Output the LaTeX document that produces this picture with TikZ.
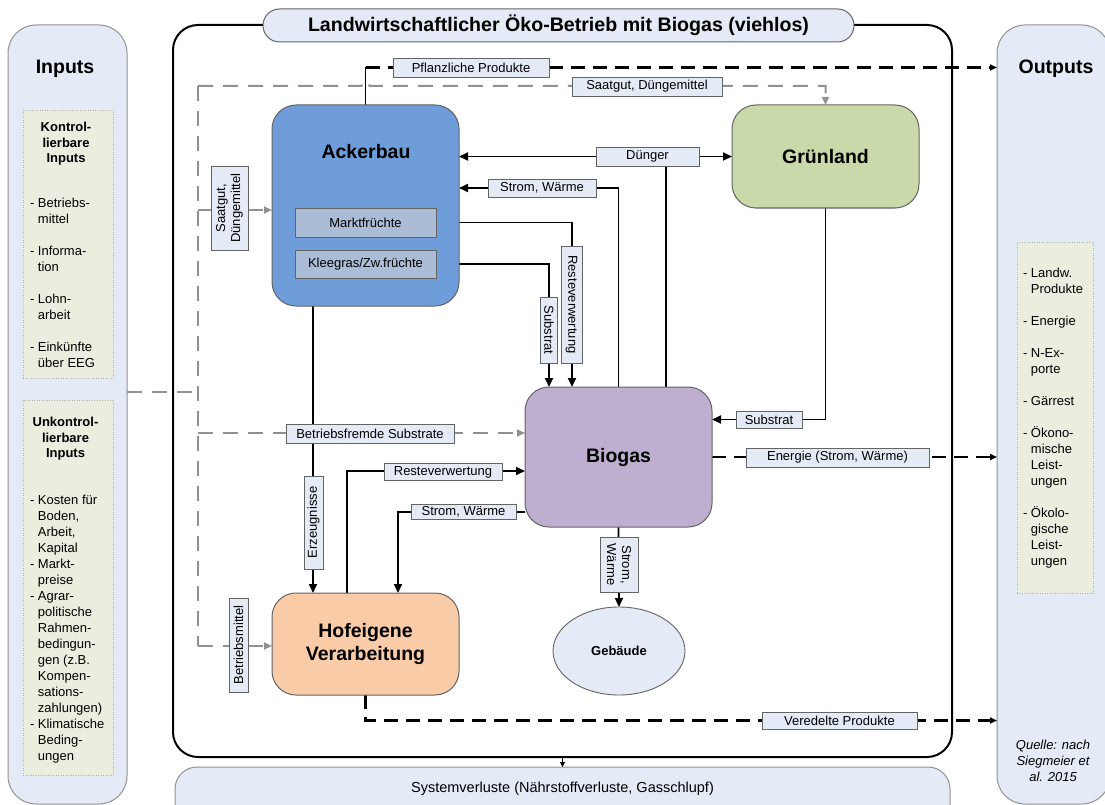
\documentclass[tikz,border=0pt]{standalone}
\usepackage{fontspec}
\setmainfont{Liberation Sans}
\usetikzlibrary{arrows.meta,shapes.geometric}

\definecolor{paleblue}{RGB}{228,234,246}
\definecolor{listgreen}{RGB}{235,238,222}
\definecolor{ackerblue}{RGB}{111,157,217}
\definecolor{subblue}{RGB}{170,188,214}
\definecolor{gruenfill}{RGB}{202,217,169}
\definecolor{biofill}{RGB}{190,175,209}
\definecolor{hoffill}{RGB}{249,203,166}
\definecolor{edgegray}{RGB}{100,100,100}
\definecolor{dashgray}{RGB}{145,145,145}

\pgfdeclarelayer{bg}
\pgfdeclarelayer{lines}
\pgfsetlayers{bg,lines,main}

\newcommand\fsz[2]{\fontsize{#1}{#2}\selectfont}
\newcommand\hangind{\hphantom{- }}

\begin{document}
\begin{tikzpicture}[x=1pt,y=-1pt,
  every node/.style={inner sep=0pt,outer sep=0pt},
  panel/.style={draw=edgegray!70, fill=paleblue, line width=1pt, rounded corners=28pt},
  listbox/.style={draw=gray!60, fill=listgreen, line width=0.7pt, dash pattern=on 1pt off 1.5pt},
  unitbox/.style={draw=edgegray, line width=1pt, rounded corners=24pt, font=\bfseries\fsz{19.5}{23}, align=center},
  subbox/.style={draw=edgegray, fill=subblue, line width=0.8pt, font=\fsz{13}{15}},
  lbl/.style={draw=edgegray, fill=paleblue, line width=0.8pt, font=\fsz{13}{15}, align=center},
  head/.style={font=\bfseries\fsz{19.5}{23}, anchor=base},
  listtext/.style={anchor=north west, align=left, font=\fsz{13}{16}},
  listhead/.style={anchor=north, align=center, font=\bfseries\fsz{13}{15.5}},
  flow/.style={draw=black, line width=1.8pt},
  dflow/.style={draw=black, line width=2.4pt, dash pattern=on 14pt off 8pt},
  grayflow/.style={draw=dashgray, line width=2pt, dash pattern=on 15pt off 10pt},
  flowarr/.style={-{Triangle[length=9pt,width=8pt]}},
  grayarr/.style={-{Triangle[length=8pt,width=7pt]}},
  outarr/.style={-{Triangle[length=7pt,width=6pt]}},
  smallarr/.style={-{Triangle[length=5pt,width=5pt]}}
]
\useasboundingbox (0,0) rectangle (1105,805);

% ---------- containers ----------
\begin{pgfonlayer}{bg}
  \node[panel, minimum width=119, minimum height=779] (inputs) at (67.5,414.5) {};
  \node[panel, minimum width=113, minimum height=779] (outputs) at (1053.5,414.5) {};
  \node[draw=black, line width=2pt, rounded corners=25pt,
        minimum width=779, minimum height=732] (frame) at (562.5,391) {};
  \node[draw=edgegray, fill=paleblue, line width=1pt, rounded corners=16.5pt,
        minimum width=591, minimum height=33, font=\bfseries\fsz{19.6}{22}] (title) at (558.5,25.5)
        {Landwirtschaftlicher Öko-Betrieb mit Biogas (viehlos)};
  \node[panel, rounded corners=22pt, minimum width=775, minimum height=60] (sysv) at (562.5,797) {};
  \node[listbox, minimum width=90, minimum height=268] (klbox) at (68,244) {};
  \node[listbox, minimum width=90, minimum height=375] (ukbox) at (68,587.5) {};
  \node[listbox, minimum width=76, minimum height=351] (outbox) at (1055,417.5) {};
\end{pgfonlayer}

% ---------- side texts ----------
\node[head] (inhead) at (65,74) {Inputs};
\node[head] (outhead) at (1056,74) {Outputs};

\node[listhead] (klhead) at (66,121) {\strut Kontrol-\\lierbare\\Inputs};
\node[listtext] (kllist) at (30,196.5) {\strut - Betriebs-\\\hangind mittel\\[16pt]- Informa-\\\hangind tion\\[16pt]- Lohn-\\\hangind arbeit\\[16pt]- Einkünfte\\\hangind über EEG};

\node[listhead] (ukhead) at (65.5,416) {\strut Unkontrol-\\lierbare\\Inputs};
\node[listtext] (uklist) at (30,493.5) {\strut - Kosten für\\\hangind Boden,\\\hangind Arbeit,\\\hangind Kapital\\- Markt-\\\hangind preise\\- Agrar-\\\hangind politische\\\hangind Rahmen-\\\hangind bedingun-\\\hangind gen (z.B.\\\hangind Kompen-\\\hangind sations-\\\hangind zahlungen)\\- Klimatische\\\hangind Beding-\\\hangind ungen};

\node[listtext] (outlist) at (1023,266.5) {\strut - Landw.\\\hangind Produkte\\[16pt]- Energie\\[16pt]- N-Ex-\\\hangind porte\\[16pt]- Gärrest\\[16pt]- Ökono-\\\hangind mische\\\hangind Leist-\\\hangind ungen\\[16pt]- Ökolo-\\\hangind gische\\\hangind Leist-\\\hangind ungen};

\node[anchor=north, align=center, font=\itshape\fsz{13}{16}] (quelle) at (1053,738.5) {\strut Quelle: nach\\Siegmeier et\\al. 2015};

\node[anchor=base, font=\fsz{14.5}{17}] (sysvtext) at (562.5,792) {Systemverluste (Nährstoffverluste, Gasschlupf)};

% ---------- farm units ----------
\node[unitbox, fill=ackerblue, minimum width=187, minimum height=201] (acker) at (365.5,205.5) {};
\node[head] (ackertitle) at (366,158.5) {Ackerbau};
\node[subbox, minimum width=141, minimum height=29] (markt) at (365.5,222.5) {Marktfrüchte};
\node[subbox, minimum width=141, minimum height=28] (klee) at (365.5,264) {Kleegras/Zw.früchte};

\node[unitbox, fill=gruenfill, minimum width=187, minimum height=103] (gruen) at (825.5,156.5) {Grünland};
\node[unitbox, fill=biofill, minimum width=187, minimum height=140] (biogas) at (618.5,457) {Biogas};
\node[unitbox, fill=hoffill, minimum width=187, minimum height=102] (hof) at (365.5,644) {Hofeigene\\Verarbeitung};
\node[draw=edgegray, fill=paleblue, line width=0.9pt, ellipse, minimum width=132, minimum height=88,
      font=\bfseries\fsz{13}{15}] (geb) at (619,651) {Gebäude};

% ---------- flow labels ----------
\node[lbl, minimum width=156, minimum height=19] (pflanz) at (471,67.5) {Pflanzliche Produkte};
\node[lbl, minimum width=150, minimum height=19] (saattop) at (647,86.5) {Saatgut, Düngemittel};
\node[lbl, rotate=90, minimum width=84, minimum height=37] (saatv) at (229.5,208) {Saatgut,\\Düngemittel};
\node[lbl, minimum width=103, minimum height=19] (duenger) at (647.5,156.5) {Dünger};
\node[lbl, minimum width=108, minimum height=18] (swtop) at (542,188) {Strom, Wärme};
\node[lbl, rotate=-90, minimum width=117, minimum height=21] (restv) at (571.5,304.5) {Resteverwertung};
\node[lbl, rotate=-90, minimum width=66, minimum height=17] (substv) at (549,330) {Substrat};
\node[lbl, rotate=90, minimum width=93, minimum height=19] (erzeug) at (313.5,522.5) {Erzeugnisse};
\node[lbl, minimum width=168, minimum height=19] (fremd) at (370,433.5) {Betriebsfremde Substrate};
\node[lbl, minimum width=118, minimum height=17] (restlow) at (443,472) {Resteverwertung};
\node[lbl, minimum width=105, minimum height=15] (swlow) at (463.5,511.5) {Strom, Wärme};
\node[lbl, minimum width=66, minimum height=17] (subright) at (769,419.5) {Substrat};
\node[lbl, minimum width=183, minimum height=19] (energie) at (837.5,457.5) {Energie (Strom, Wärme)};
\node[lbl, rotate=-90, minimum width=55, minimum height=38] (swgeb) at (619,564.5) {Strom,\\Wärme};
\node[lbl, rotate=90, minimum width=94, minimum height=19] (betrm) at (238.5,645) {Betriebsmittel};
\node[lbl, minimum width=155, minimum height=17] (vered) at (839.5,721) {Veredelte Produkte};

% ---------- connectors ----------
\begin{pgfonlayer}{lines}
  % grey supply trunk and its branches
  \coordinate (gtop) at (198,86);
  \coordinate (gbot) at (198,646);
  \coordinate (gin) at (198,392);
  \coordinate (gacker) at (198,210);
  \coordinate (gbio) at (198,433);
  \draw[grayflow] (inputs.east |- gin) -- (gin);
  \draw[grayflow] (gtop) -- (gbot);
  \draw[grayflow, grayarr] (gtop) -- (361.5,86) .. controls (361.5,80) and (369.5,80) .. (369.5,86)
        -- (gruen.north |- gtop) -- (gruen.north);
  \draw[grayflow, grayarr] (gacker) -- (acker.west |- gacker);
  \draw[grayflow, grayarr] (gbio) -- (biogas.west |- gbio);
  \draw[grayflow, grayarr] (gbot) -- (hof.west |- gbot);

  % plant products leaving the farm
  \coordinate (pfc) at (365.5,67.5);
  \draw[flow] (acker.north) -- (pfc);
  \draw[dflow] (pfc) -- (pflanz.west);
  \draw[dflow, outarr] (pflanz.east) -- (outputs.west |- pflanz.east);

  % digestate to both land uses
  \coordinate (dj) at (666,156.5);
  \draw[flow] (biogas.north -| dj) -- (dj);
  \draw[flow, flowarr] (dj) -- (acker.east |- dj);
  \draw[flow, flowarr] (dj) -- (gruen.west |- dj);

  % power and heat back to arable farming
  \coordinate (swj) at (618.5,188);
  \draw[flow, flowarr] (biogas.north) -- (swj) -- (acker.east |- swj);

  % crops into the digester
  \coordinate (mj) at (572,222.5);
  \draw[flow, flowarr] (markt.east) -- (mj) -- (biogas.north -| mj);
  \coordinate (kj) at (549,264);
  \draw[flow, flowarr] (klee.east) -- (kj) -- (biogas.north -| kj);

  % produce to on-farm processing
  \coordinate (ej) at (313,0);
  \draw[flow, flowarr] (acker.south -| ej) -- (hof.north -| ej);

  % processing residues and energy
  \coordinate (hr) at (347,471);
  \draw[flow, flowarr] (hof.north -| hr) -- (hr) -- (biogas.west |- hr);
  \coordinate (sl) at (398,512);
  \draw[flow, flowarr] (biogas.west |- sl) -- (sl) -- (hof.north -| sl);

  % grassland substrate
  \coordinate (gj) at (825.5,419.5);
  \draw[flow, flowarr] (gruen.south) -- (gj) -- (biogas.east |- gj);

  % energy out, buildings, refined products
  \draw[dflow, outarr] (biogas.east) -- (outputs.west |- biogas.east);
  \draw[flow, flowarr] (biogas.south) -- (geb.north);
  \coordinate (vj) at (365.5,720.5);
  \draw[dflow, outarr] (hof.south) -- (vj) -- (outputs.west |- vj);

  % system losses
  \draw[line width=1.2pt, smallarr] (frame.south) -- (sysv.north);
\end{pgfonlayer}
\end{tikzpicture}
\end{document}
